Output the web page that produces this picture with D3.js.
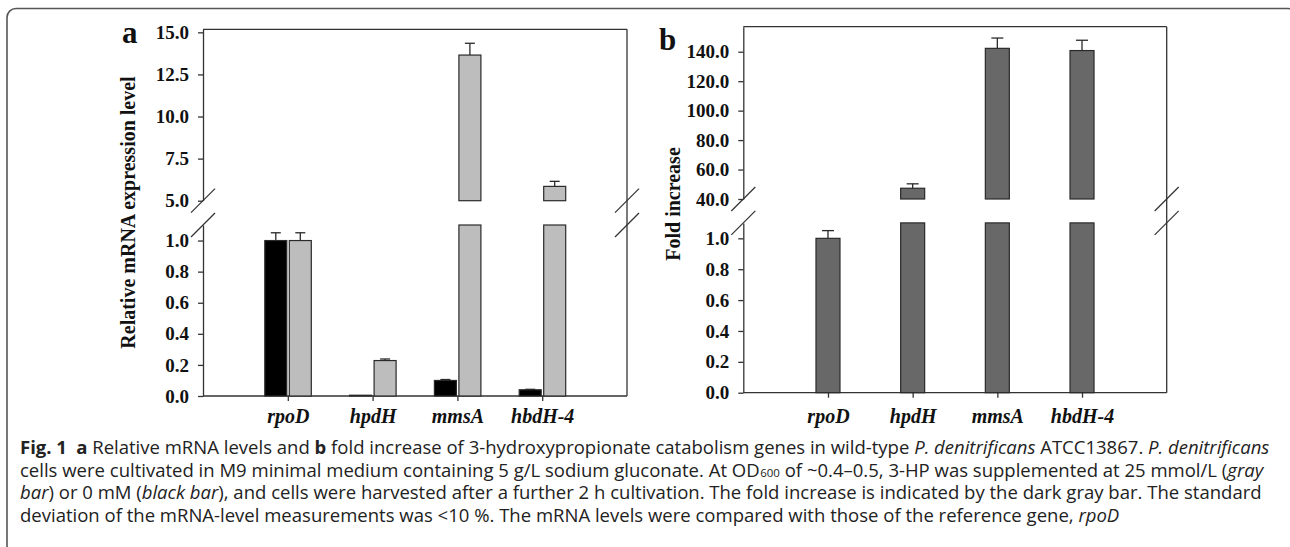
<!DOCTYPE html>
<html>
<head>
<meta charset="utf-8">
<script src="https://cdn.jsdelivr.net/npm/d3@7"></script>
<style>
body { margin: 0; background: #fff; }
svg { display: block; }
.axis path, .axis line { stroke: #333; stroke-width: 1.3; }
.axis text { font-family: "Liberation Serif", "Times New Roman", serif; font-weight: bold; font-size: 19px; fill: #111; }
.cat text { font-style: italic; font-size: 20px; }
.serif { font-family: "Liberation Serif", "Times New Roman", serif; font-weight: bold; fill: #111; }
.caption { font-family: "Open Sans", sans-serif; fill: #222; }
</style>
</head>
<body>
<script>
// data
const genes = ["rpoD", "hpdH", "mmsA", "hbdH-4"];
const noHP = [1.0, 0.005, 0.10, 0.04];          // 0 mM, black bars
const noHPErr = [0.05, 0.0, 0.006, 0.003];
const withHP = [1.0, 0.228, 13.65, 5.85];       // 25 mmol/L, gray bars
const withHPErr = [0.05, 0.01, 0.7, 0.3];
const foldInc = [1.0, 47.3, 142.3, 140.8];      // dark gray bars
const foldErr = [0.05, 3.0, 7.0, 7.0];

const ticksALow = [0, 0.2, 0.4, 0.6, 0.8, 1.0];
const ticksAHigh = [5, 7.5, 10, 12.5, 15];
const ticksBLow = [0, 0.2, 0.4, 0.6, 0.8, 1.0];
const ticksBHigh = [40, 60, 80, 100, 120, 140];

let width = 1290, height = 547;
const fmt = d3.format(".1f");

var svg = d3.select("body").append("svg")
    .attr("width", width)
    .attr("height", height);

// outer rounded frame
svg.append("rect")
  .attr("x", 7).attr("y", 8.5)
  .attr("width", 1290).attr("height", 546)
  .attr("rx", 9)
  .attr("fill", "none")
  .attr("stroke", "#555")
  .attr("stroke-width", 1.6);

// panel a scales
const xa = d3.scaleLinear().domain([0, 5]).range([203, 627]);
const yaLow = d3.scaleLinear().domain([0, 1.1]).range([396, 225]);
const yaHigh = d3.scaleLinear().domain([5, 15.18]).range([200.7, 29.3]);

// panel b scales
const xb = d3.scaleLinear().domain([0, 5]).range([743.3, 1166.7]);
const ybLow = d3.scaleLinear().domain([0, 1.1]).range([392.7, 222.9]);
const ybHigh = d3.scaleLinear().domain([40, 157]).range([199, 26.7]);

function drawFrame(x, yLow, yHigh, lowTicks, highTicks) {
  const g = svg.append("g");
  g.append("g").attr("class", "axis")
    .attr("transform", `translate(${x.range()[0]},0)`)
    .call(d3.axisLeft(yLow).tickValues(lowTicks).tickFormat(fmt).tickSize(5).tickSizeOuter(0).tickPadding(9));
  g.append("g").attr("class", "axis")
    .attr("transform", `translate(${x.range()[0]},0)`)
    .call(d3.axisLeft(yHigh).tickValues(highTicks).tickFormat(fmt).tickSize(5).tickSizeOuter(0).tickPadding(9));
  const cat = g.append("g").attr("class", "axis cat")
    .attr("transform", `translate(0,${yLow(0)})`)
    .call(d3.axisBottom(x).tickValues([1, 2, 3, 4]).tickFormat(d => genes[d - 1]).tickSize(5).tickSizeOuter(0));
  cat.selectAll("text").attr("dy", 0).attr("y", 423 - yLow(0));
  cat.select(".domain").remove();
  const x0 = x.range()[0], x1 = x.range()[1];
  // bottom, right and top edges of the box
  g.append("line").attr("x1", x0).attr("x2", x1).attr("y1", yLow(0)).attr("y2", yLow(0))
    .attr("stroke", "#333").attr("stroke-width", 1.3);
  g.append("line").attr("x1", x1).attr("x2", x1).attr("y1", yLow(0)).attr("y2", yHigh.range()[1])
    .attr("stroke", "#333").attr("stroke-width", 1.3);
  g.append("line").attr("x1", x0).attr("x2", x1).attr("y1", yHigh.range()[1]).attr("y2", yHigh.range()[1])
    .attr("stroke", "#333").attr("stroke-width", 1.3);
  // break marks
  const ys = [yHigh.range()[0], yLow.range()[1]];
  [x0, x1].forEach(cx => {
    ys.forEach(cy => {
      g.append("line")
        .attr("x1", cx - 12).attr("y1", cy + 12)
        .attr("x2", cx + 12).attr("y2", cy - 12)
        .attr("stroke", "#333").attr("stroke-width", 1.2);
    });
  });
}

function drawBar(bx, w, v, err, yLow, yHigh, fill, capW) {
  const lowMax = yLow.domain()[1];
  const attrs = sel => sel.attr("fill", fill).attr("stroke", "#2a2a2a").attr("stroke-width", 1.2);
  let top;
  if (v <= lowMax) {
    svg.append("rect").call(attrs)
      .attr("x", bx).attr("width", w)
      .attr("y", yLow(v)).attr("height", yLow(0) - yLow(v));
    top = [yLow(v), yLow(v + err)];
  } else {
    svg.append("rect").call(attrs)
      .attr("x", bx).attr("width", w)
      .attr("y", yLow(lowMax)).attr("height", yLow(0) - yLow(lowMax));
    const hMin = yHigh.domain()[0];
    svg.append("rect").call(attrs)
      .attr("x", bx).attr("width", w)
      .attr("y", yHigh(v)).attr("height", yHigh(hMin) - yHigh(v));
    top = [yHigh(v), yHigh(v + err)];
  }
  if (err > 0) {
    const cx = bx + w / 2;
    svg.append("line").attr("x1", cx).attr("x2", cx).attr("y1", top[0]).attr("y2", top[1])
      .attr("stroke", "#2a2a2a").attr("stroke-width", 1.3);
    svg.append("line").attr("x1", cx - capW / 2).attr("x2", cx + capW / 2).attr("y1", top[1]).attr("y2", top[1])
      .attr("stroke", "#2a2a2a").attr("stroke-width", 1.3);
  }
}

drawFrame(xa, yaLow, yaHigh, ticksALow, ticksAHigh);
drawFrame(xb, ybLow, ybHigh, ticksBLow, ticksBHigh);

genes.forEach((gname, i) => {
  const c = xa(i + 1);
  drawBar(c - 23, 22, noHP[i], noHPErr[i], yaLow, yaHigh, "#000", 10);
  drawBar(c + 1.5, 22, withHP[i], withHPErr[i], yaLow, yaHigh, "#bdbdbd", 10);
  const cb = xb(i + 1);
  drawBar(cb - 12, 24, foldInc[i], foldErr[i], ybLow, ybHigh, "#686868", 12);
});

// axis titles and panel letters
svg.append("text").attr("class", "serif")
  .attr("transform", "translate(135,212.5) rotate(-90)")
  .attr("text-anchor", "middle").style("font-size", "20px")
  .text("Relative mRNA expression level");
svg.append("text").attr("class", "serif")
  .attr("transform", "translate(680,204) rotate(-90)")
  .attr("text-anchor", "middle").style("font-size", "20px")
  .text("Fold increase");
svg.append("text").attr("class", "serif").attr("x", 122).attr("y", 43).style("font-size", "31px").text("a");
svg.append("text").attr("class", "serif").attr("x", 659).attr("y", 50).style("font-size", "31px").text("b");

// caption
const captionLines = [
  [["Fig. 1", "b"], ["\u2002", ""], ["a", "b"], [" Relative mRNA levels and ", ""], ["b", "b"],
   [" fold increase of 3-hydroxypropionate catabolism genes in wild-type ", ""], ["P. denitrificans", "i"],
   [" ATCC13867. ", ""], ["P. denitrificans", "i"]],
  [["cells were cultivated in M9 minimal medium containing 5 g/L sodium gluconate. At OD", ""], ["600", "s"],
   [" of ~0.4\u20130.5, 3-HP was supplemented at 25 mmol/L (", "r"], ["gray", "i"]],
  [["bar", "i"], [") or 0 mM (", ""], ["black bar", "i"],
   ["), and cells were harvested after a further 2 h cultivation. The fold increase is indicated by the dark gray bar. The standard", ""]],
  [["deviation of the mRNA-level measurements was <10 %. The mRNA levels were compared with those of the reference gene, ", ""], ["rpoD", "i"]]
];
const capBase = [454, 476.5, 499, 521.5];

const capText = svg.selectAll(".caption")
  .data(captionLines)
  .enter().append("text")
  .attr("class", "caption")
  .attr("x", 20)
  .attr("y", (d, i) => capBase[i])
  .style("font-size", "16px");

capText.selectAll("tspan")
  .data(d => d)
  .enter().append("tspan")
  .style("font-weight", d => d[1] === "b" ? "bold" : null)
  .style("font-style", d => d[1] === "i" ? "italic" : null)
  .style("font-size", d => d[1] === "s" ? "0.62em" : null)
  .attr("dx", d => d[1] === "s" ? 0.6 : null)
  .attr("dy", d => d[1] === "s" ? 0.6 : d[1] === "r" ? -0.6 : null)
  .text(d => d[0]);

// size the caption so the first line spans the figure width
const len0 = capText.nodes()[0].getComputedTextLength();
const fs = 16 * 1250 / len0;
capText.style("font-size", fs + "px");
</script>
</body>
</html>
